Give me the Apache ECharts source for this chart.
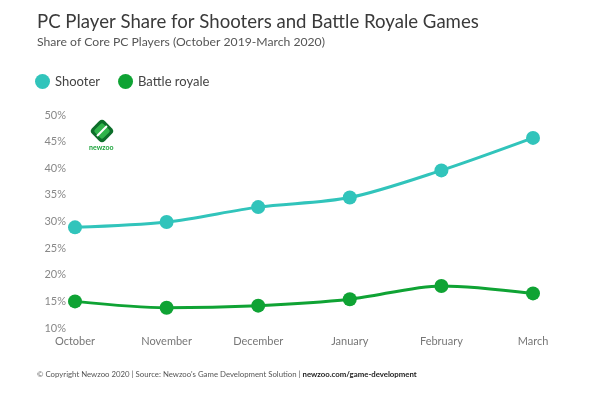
<!DOCTYPE html>
<html>
<head>
<meta charset="utf-8">
<script src="https://cdn.jsdelivr.net/npm/echarts@6/dist/echarts.min.js"></script>
<style>
  html, body { margin: 0; padding: 0; background: #fff; }
  #main { width: 600px; height: 396px; }
</style>
</head>
<body>
<div id="main"></div>
<script>
var months = ["October", "November", "December", "January", "February", "March"];
var shooter = [28.9, 29.9, 32.7, 34.5, 39.6, 45.7];
var battleRoyale = [15.0, 13.8, 14.2, 15.4, 17.9, 16.5];
var yTicks = [10, 15, 20, 25, 30, 35, 40, 45, 50];

var chartDom = document.getElementById("main");
var myChart = echarts.init(chartDom);
var font = "Lato, 'Open Sans', sans-serif";
var option;
option = {
  backgroundColor: "#fff",
  title: [
    {
      text: "PC Player Share for Shooters and Battle Royale Games",
      left: 32,
      top: 7,
      textStyle: { fontFamily: font, fontSize: 18.6, fontWeight: "normal", color: "#3a3a3a" },
    },
    {
      text: "Share of Core PC Players (October 2019-March 2020)",
      left: 32,
      top: 31,
      textStyle: { fontFamily: font, fontSize: 12.2, fontWeight: "normal", color: "#555" },
    },
  ],
  legend: {
    left: 30,
    top: 69,
    icon: "circle",
    itemWidth: 15,
    itemHeight: 15,
    itemGap: 18,
    textStyle: { fontFamily: font, fontSize: 13, color: "#444" },
    data: ["Shooter", "Battle royale"],
  },
  grid: {
    left: 75,
    right: 67,
    top: 115,
    bottom: 68,
    containLabel: false,
  },
  xAxis: {
    type: "category",
    boundaryGap: false,
    data: months,
    axisLine: { show: false },
    axisTick: { show: false },
    axisLabel: { margin: 8, fontFamily: font, fontSize: 11, color: "#777" },
  },
  yAxis: {
    type: "value",
    min: yTicks[0],
    max: yTicks[yTicks.length - 1],
    interval: 5,
    splitLine: { show: false },
    axisLine: { show: false },
    axisTick: { show: false },
    axisLabel: { margin: 9, fontFamily: font, fontSize: 11, color: "#888", formatter: "{value}%" },
  },
  series: [
    {
      name: "Shooter",
      type: "line",
      smooth: 0.3,
      data: shooter,
      symbol: "circle",
      symbolSize: 14,
      itemStyle: { color: "#31c4bb" },
      lineStyle: { width: 3, color: "#31c4bb" },
    },
    {
      name: "Battle royale",
      type: "line",
      smooth: 0.3,
      data: battleRoyale,
      symbol: "circle",
      symbolSize: 14,
      itemStyle: { color: "#0fa334" },
      lineStyle: { width: 3, color: "#0fa334" },
    },
  ],
  graphic: [
    {
      type: "rect",
      x: 102,
      y: 131,
      rotation: Math.PI / 4,
      shape: { x: -9, y: -9, width: 18, height: 18, r: 4 },
      style: { fill: "#0c6e2a" },
    },
    {
      type: "rect",
      x: 102,
      y: 131,
      rotation: Math.PI / 4,
      shape: { x: -6, y: -6, width: 12, height: 12, r: 2 },
      style: { fill: "#2fb34a" },
    },
    {
      type: "rect",
      x: 102,
      y: 131,
      rotation: -Math.PI / 4,
      shape: { x: -1, y: -7, width: 2, height: 14 },
      style: { fill: "#fff" },
    },
    {
      type: "text",
      left: 89,
      top: 144,
      style: { text: "newzoo", fontFamily: font, fontSize: 7, fontWeight: "bold", fill: "#1aa33a" },
    },
    {
      type: "text",
      left: 37,
      top: 370,
      style: {
        rich: {
          a: { fontFamily: font, fontSize: 7.8, fill: "#555" },
          b: { fontFamily: font, fontSize: 7.8, fontWeight: "bold", fill: "#222" },
        },
        text: "{a|© Copyright Newzoo 2020 | Source: Newzoo's Game Development Solution | }{b|newzoo.com/game-development}",
      },
    },
  ],
};
myChart.setOption(option);
</script>
</body>
</html>
